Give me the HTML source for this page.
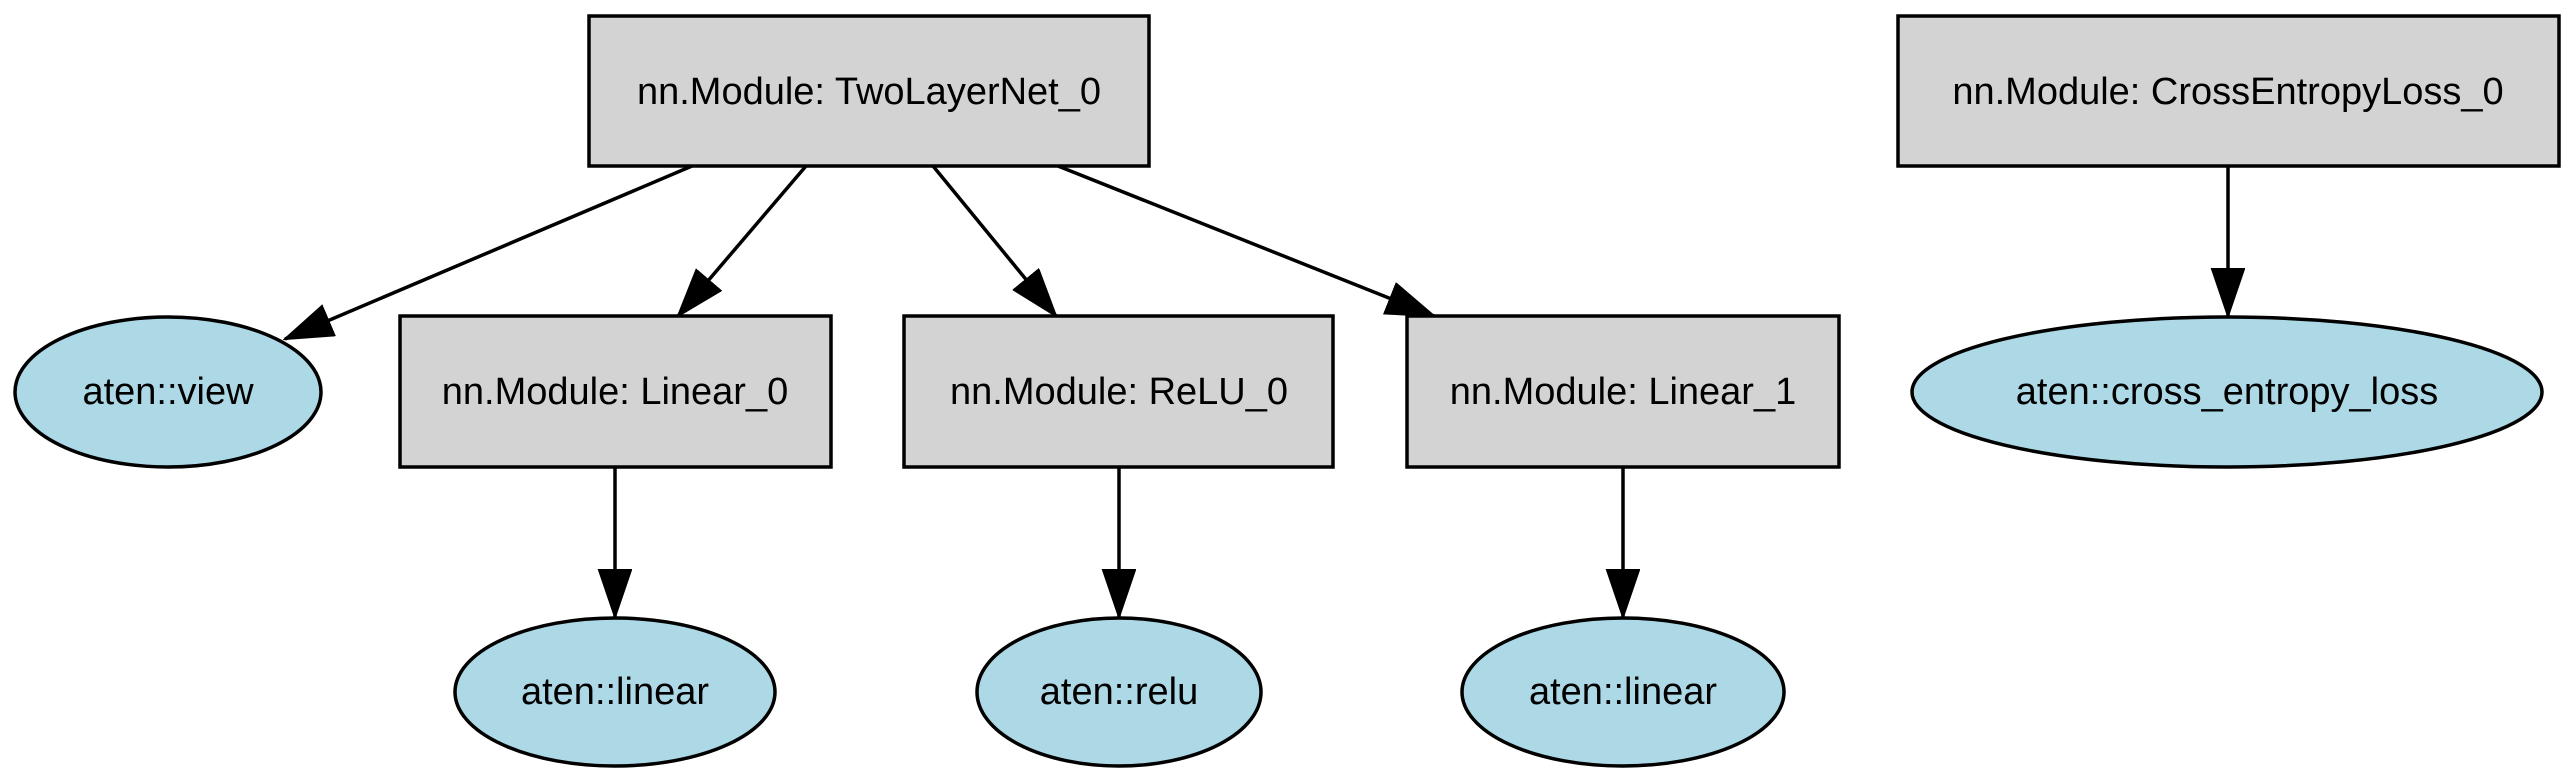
<!DOCTYPE html>
<html><head><meta charset="utf-8"><style>
html,body{margin:0;padding:0;background:#fff;}
svg{display:block;}
text{font-family:"Liberation Sans",Arial,sans-serif;font-size:38px;fill:#000;text-anchor:middle;dominant-baseline:central;}
</style></head><body>
<svg width="2575" height="783" viewBox="0 0 2575 783" xmlns="http://www.w3.org/2000/svg">
<defs>
<marker id="a" markerUnits="userSpaceOnUse" markerWidth="50" markerHeight="36" refX="48" refY="17" orient="auto">
<path d="M1,1 L48,17 L1,33 z" fill="#000" stroke="#000" stroke-width="2"/>
</marker>
</defs>
<g stroke="#000" stroke-width="3.5" fill="none">
<line x1="692" y1="166" x2="285" y2="339" marker-end="url(#a)"/>
<line x1="806" y1="166" x2="678" y2="316" marker-end="url(#a)"/>
<line x1="933" y1="166" x2="1056" y2="316" marker-end="url(#a)"/>
<line x1="1058" y1="166" x2="1434" y2="316" marker-end="url(#a)"/>
<line x1="615" y1="467" x2="615" y2="617" marker-end="url(#a)"/>
<line x1="1119" y1="467" x2="1119" y2="617" marker-end="url(#a)"/>
<line x1="1623" y1="467" x2="1623" y2="617" marker-end="url(#a)"/>
<line x1="2228" y1="166" x2="2228" y2="316" marker-end="url(#a)"/>
</g>
<g stroke="#000" stroke-width="3.5" fill="#d3d3d3">
<rect x="589" y="16" width="560" height="150"/>
<rect x="400" y="316" width="431" height="151"/>
<rect x="904" y="316" width="429" height="151"/>
<rect x="1407" y="316" width="432" height="151"/>
<rect x="1898" y="16" width="661" height="150"/>
</g>
<g stroke="#000" stroke-width="3.5" fill="#add8e6">
<ellipse cx="168" cy="392" rx="153" ry="75"/>
<ellipse cx="615" cy="692" rx="160" ry="74"/>
<ellipse cx="1119" cy="692" rx="142" ry="74"/>
<ellipse cx="1623" cy="692" rx="161" ry="74"/>
<ellipse cx="2227" cy="392" rx="315" ry="75"/>
</g>
<text x="869" y="92">nn.Module: TwoLayerNet_0</text>
<text x="2228" y="92">nn.Module: CrossEntropyLoss_0</text>
<text x="615" y="392">nn.Module: Linear_0</text>
<text x="1119" y="392">nn.Module: ReLU_0</text>
<text x="1623" y="392">nn.Module: Linear_1</text>
<text x="168" y="392">aten::view</text>
<text x="2227" y="392">aten::cross_entropy_loss</text>
<text x="615" y="692">aten::linear</text>
<text x="1119" y="692">aten::relu</text>
<text x="1623" y="692">aten::linear</text>
</svg>
</body></html>
